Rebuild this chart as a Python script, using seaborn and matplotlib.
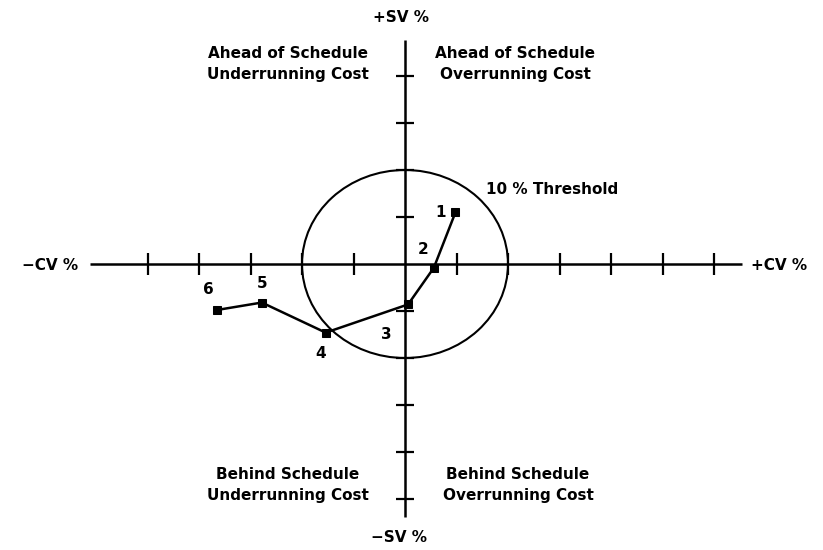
"""Cost/schedule variance quadrant chart with 10 % threshold circle."""

import matplotlib
matplotlib.use("Agg")
import matplotlib.pyplot as plt
from matplotlib.patches import Ellipse
import pandas as pd
import seaborn as sns

W, H = 823, 550

# data (percent variance)
periods = ["1", "2", "3", "4", "5", "6"]
cv_pct = [4.9, 2.8, 0.3, -7.7, -13.9, -18.3]
sv_pct = [5.5, -0.4, -4.3, -7.3, -4.1, -4.9]
threshold = 10
x_ticks = [-25, -20, -15, -10, -5, 5, 10, 15, 20, 25, 30]
y_ticks = [-25, -20, -15, -10, -5, 5, 10, 15, 20]

# label offsets in points relative to each point
label_off = [(-11, 0), (-8, 13), (-16, -22), (-4, -15), (0, 14), (-6, 15)]


def fpx(x, y):
    """pixel position -> figure fraction"""
    return x / W, 1 - y / H


def main() -> None:
    sns.set_theme(style="white")
    plt.rcParams["font.family"] = ["DejaVu Sans"]
    plt.rcParams["text.color"] = "black"
    fig = plt.figure(figsize=(W / 100, H / 100), dpi=100)
    ax = fig.add_axes([0, 0, 1, 1])
    ax.set_xlim(-405 / 10.3, (W - 405) / 10.3)
    ax.set_ylim(-(H - 264) / 9.4, 264 / 9.4)
    ax.axis("off")

    kw = dict(color="black", lw=1.8, solid_capstyle="butt")
    ax.plot([-30.6, 32.7], [0, 0], **kw)
    ax.plot([0, 0], [-26.9, 23.8], **kw)
    ax.plot(x_ticks, [0] * len(x_ticks), ls="none", marker="|",
            ms=16, mew=1.6, color="black")
    ax.plot([0] * len(y_ticks), y_ticks, ls="none", marker="_",
            ms=13, mew=1.6, color="black")

    ax.add_patch(Ellipse((0, 0), 2 * threshold, 2 * threshold,
                         fill=False, ec="black", lw=1.5))

    df = pd.DataFrame({"period": periods, "cv": cv_pct, "sv": sv_pct})
    sns.lineplot(data=df, x="cv", y="sv", sort=False, color="black",
                 lw=1.8, marker="s", ms=6, mec="black", ax=ax)
    for (_, r), off in zip(df.iterrows(), label_off):
        ax.annotate(r["period"], (r["cv"], r["sv"]), xytext=off,
                    textcoords="offset points", ha="center", va="center",
                    fontsize=11, fontweight="bold", color="black")

    tk = dict(fontsize=11, fontweight="bold", ha="center", va="center",
              color="black")
    fig.text(*fpx(401, 18), "+SV %", **tk)
    fig.text(*fpx(399, 538), "\u2212SV %", **tk)
    fig.text(*fpx(50, 265), "\u2212CV %", **tk)
    fig.text(*fpx(779, 265), "+CV %", **tk)
    fig.text(*fpx(552, 190), "10 % Threshold", **tk)
    fig.text(*fpx(288, 64), "Ahead of Schedule\nUnderrunning Cost",
             linespacing=1.45, **tk)
    fig.text(*fpx(515, 64), "Ahead of Schedule\nOverrunning Cost",
             linespacing=1.45, **tk)
    fig.text(*fpx(288, 485), "Behind Schedule\nUnderrunning Cost",
             linespacing=1.45, **tk)
    fig.text(*fpx(518, 485), "Behind Schedule\nOverrunning Cost",
             linespacing=1.45, **tk)

    fig.savefig("out.png", dpi=100)
    plt.close(fig)


if __name__ == "__main__":
    main()
